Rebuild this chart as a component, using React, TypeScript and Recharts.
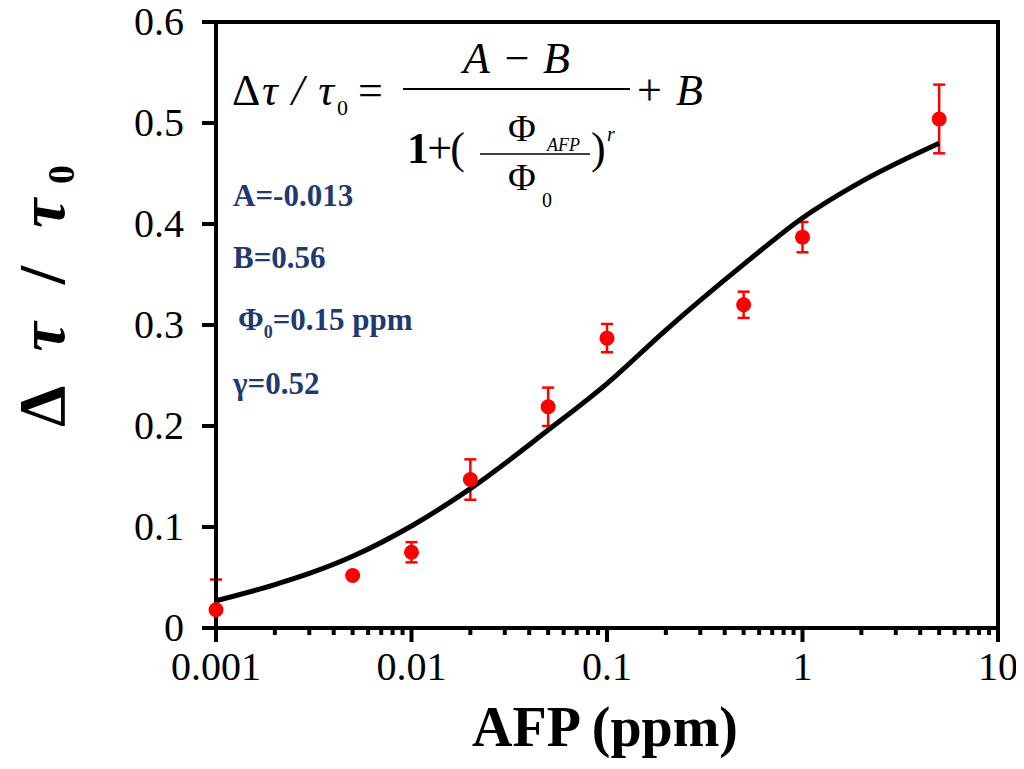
import React from 'react';
import { ScatterChart, Scatter, XAxis, YAxis, ErrorBar, ReferenceArea, Customized } from 'recharts';

// Measured data points (AFP concentration, ppm) with error bars [lower, upper]
const pointX = [0.001, 0.005, 0.01, 0.02, 0.05, 0.1, 0.5, 1, 5];
const pointY = [0.018, 0.052, 0.075, 0.147, 0.219, 0.287, 0.32, 0.387, 0.504];
const pointErrLow = [0.018, 0.0, 0.01, 0.02, 0.019, 0.014, 0.013, 0.015, 0.034];
const pointErrHigh = [0.03, 0.0, 0.01, 0.02, 0.019, 0.014, 0.013, 0.015, 0.034];

// Fitted curve
const fitX = [0.001, 0.002, 0.003, 0.005, 0.01, 0.02, 0.05, 0.1, 0.2, 0.5, 1, 2, 5];
const fitY = [0.027, 0.043, 0.054, 0.071, 0.101, 0.138, 0.196, 0.242, 0.295, 0.36, 0.406, 0.442, 0.48];

const yTicks = [0, 0.1, 0.2, 0.3, 0.4, 0.5, 0.6];
const yTickLabels = ['0', '0.1', '0.2', '0.3', '0.4', '0.5', '0.6'];
const xMajorTicks = [0.001, 0.01, 0.1, 1, 10];
const xMajorLabels = ['0.001', '0.01', '0.1', '1', '10'];
const xMinorTicks = [
  0.002, 0.003, 0.004, 0.005, 0.006, 0.007, 0.008, 0.009,
  0.02, 0.03, 0.04, 0.05, 0.06, 0.07, 0.08, 0.09,
  0.2, 0.3, 0.4, 0.5, 0.6, 0.7, 0.8, 0.9,
  2, 3, 4, 5, 6, 7, 8, 9,
];

const points = pointX.map((x, i) => ({ x, y: pointY[i], err: [pointErrLow[i], pointErrHigh[i]] }));
const fit = fitX.map((x, i) => ({ x, y: fitY[i] }));
const allXTicks = [...xMajorTicks, ...xMinorTicks].sort((a, b) => a - b);

const SERIF = '"Liberation Serif", "Times New Roman", serif';
const NAVY = '#1F3A70';

const XTick = (props: any) => {
  const { x, y, payload } = props;
  const v = payload.value;
  const idx = xMajorTicks.findIndex((t) => Math.abs(t - v) / t < 1e-6);
  const major = idx >= 0;
  return (
    <g>
      <line x1={x} x2={x} y1={y} y2={y + (major ? 14 : 7)} stroke="#000" strokeWidth={4} />
      {major && (
        <text x={x} y={y + 52} textAnchor="middle" fontSize={40} fontFamily={SERIF} fill="#000">
          {xMajorLabels[idx]}
        </text>
      )}
    </g>
  );
};

const YTick = (props: any) => {
  const { x, y, payload } = props;
  const idx = yTicks.findIndex((t) => Math.abs(t - payload.value) < 1e-9);
  return (
    <text x={x} y={y + 13} textAnchor="end" fontSize={40} fontFamily={SERIF} fill="#000">
      {idx >= 0 ? yTickLabels[idx] : ''}
    </text>
  );
};

const Dot = (props: any) => {
  const { cx, cy } = props;
  return <circle cx={cx} cy={cy} r={7.5} fill="#FF0000" />;
};

const NoShape = () => <g />;

const Annotations = () => (
  <g fontFamily={SERIF}>
    {/* Equation */}
    <text x={224} y={97} fontSize={44} fill="#000" textLength={102} lengthAdjust="spacing">
      Δ<tspan fontStyle="italic">τ / τ</tspan>
    </text>
    <text x={329} y={107} fontSize={22} fill="#000">0</text>
    <text x={350} y={97} fontSize={44} fill="#000">=</text>
    <text x={455} y={65} fontSize={44} fill="#000" fontStyle="italic" textLength={107} lengthAdjust="spacing">
      A−B
    </text>
    <line x1={395} x2={622} y1={81} y2={81} stroke="#000" strokeWidth={2} />
    <text x={629} y={97} fontSize={44} fill="#000" textLength={66} lengthAdjust="spacing">
      +<tspan fontStyle="italic">B</tspan>
    </text>
    <text x={399} y={155} fontSize={44} fill="#000" textLength={58} lengthAdjust="spacing">
      <tspan fontWeight="bold">1</tspan>+(
    </text>
    <text x={500} y={133} fontSize={38} fill="#000">Φ</text>
    <text x={539} y={143} fontSize={18} fill="#000" fontStyle="italic">AFP</text>
    <line x1={472} x2={582} y1={146} y2={146} stroke="#000" strokeWidth={1.5} />
    <text x={500} y={182} fontSize={38} fill="#000">Φ</text>
    <text x={534} y={199} fontSize={20} fill="#000">0</text>
    <text x={583} y={155} fontSize={44} fill="#000">)</text>
    <text x={599} y={133} fontSize={20} fill="#000" fontStyle="italic">r</text>

    {/* Fit parameters */}
    <g fill={NAVY} fontWeight="bold" fontSize={31}>
      <text x={225} y={198}>A=-0.013</text>
      <text x={225} y={260}>B=0.56</text>
      <text x={230} y={322}>
        Φ<tspan fontSize={18} dy={8}>0</tspan><tspan dy={-8}>=0.15 ppm</tspan>
      </text>
      <text x={225} y={386}>γ=0.52</text>
    </g>

    {/* Axis titles */}
    <text x={597} y={738} textAnchor="middle" fontSize={56} fontWeight="bold" fill="#000">
      AFP (ppm)
    </text>
    <text
      transform="translate(56,288) rotate(-90)"
      textAnchor="middle"
      fontSize={66}
      fontWeight="bold"
      fill="#000"
      textLength={262}
      lengthAdjust="spacing"
    >
      Δ <tspan fontStyle="italic">τ</tspan> / <tspan fontStyle="italic">τ</tspan>
      <tspan fontSize={38} dy={10} dx={4}>0</tspan>
    </text>
  </g>
);

export default function App() {
  return (
    <ScatterChart
      width={1010}
      height={761}
      margin={{ top: 14, right: 20, left: 0, bottom: 0 }}
    >
      <XAxis
        dataKey="x"
        type="number"
        scale="log"
        domain={[0.001, 10]}
        ticks={allXTicks}
        interval={0}
        height={141}
        tickSize={0}
        tickMargin={0}
        tickLine={false}
        axisLine={{ stroke: '#000', strokeWidth: 4 }}
        tick={<XTick />}
      />
      <YAxis
        dataKey="y"
        type="number"
        domain={[0, 0.6]}
        ticks={yTicks}
        interval={0}
        width={208}
        tickSize={14}
        tickMargin={18}
        tickLine={{ stroke: '#000', strokeWidth: 4 }}
        axisLine={{ stroke: '#000', strokeWidth: 4 }}
        tick={<YTick />}
      />
      <ReferenceArea
        x1={0.001}
        x2={10}
        y1={0}
        y2={0.6}
        fill="none"
        fillOpacity={0}
        stroke="#000"
        strokeWidth={4}
        ifOverflow="visible"
      />
      <Scatter
        data={fit}
        line={{ stroke: '#000', strokeWidth: 5 }}
        lineJointType="monotoneX"
        shape={<NoShape />}
        isAnimationActive={false}
      />
      <Scatter data={points} shape={<Dot />} isAnimationActive={false}>
        <ErrorBar dataKey="err" direction="y" width={6} stroke="#FF0000" strokeWidth={2.5} />
      </Scatter>
      <Customized component={<Annotations />} />
    </ScatterChart>
  );
}
